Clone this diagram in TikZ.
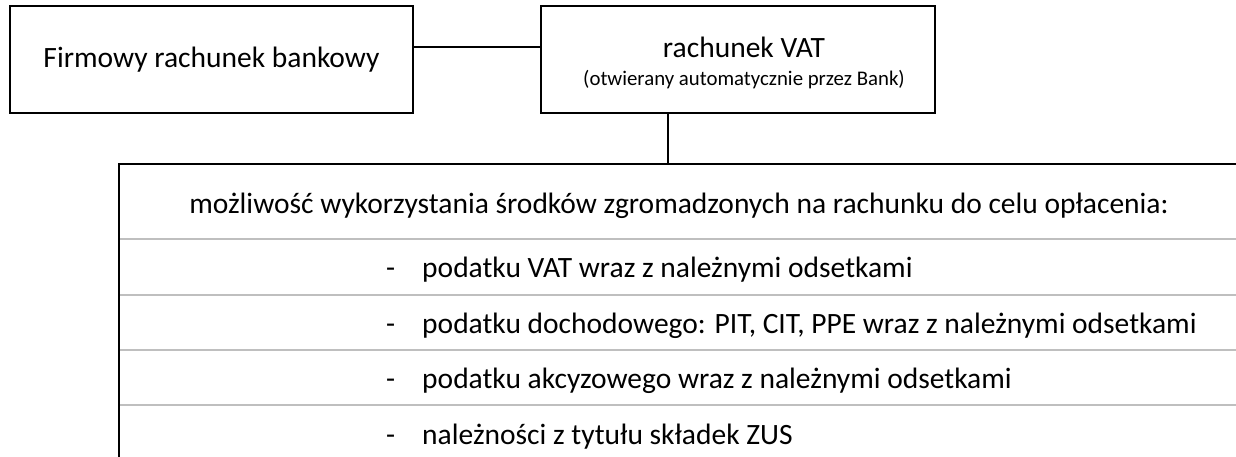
\documentclass[tikz,border=0pt]{standalone}
\usepackage{fontspec}
\setmainfont{Carlito}
\usetikzlibrary{positioning,calc}

\tikzset{
  ramka/.style={draw, line width=2pt, minimum height=107pt, inner sep=0pt},
  linia/.style={line width=2pt},
  wiersz/.style={draw=black!25, line width=2pt},
  punkt/.style={anchor=base west, inner sep=0pt}
}

\begin{document}
\begin{tikzpicture}[x=1pt, y=-1pt, font=\fontsize{29.5}{35}\selectfont]
  \useasboundingbox (0,0) rectangle (1236,456);
  \clip (0,0) rectangle (1236,456);
  % Top boxes
  \node[ramka, minimum width=403pt] (firma) at (211.5,59.5) {Firmowy rachunek bankowy};
  \node[ramka, minimum width=394pt] (vat) at (738,59.5) {};
  \node[anchor=base, inner sep=0pt] (vattytul) at (744,57) {rachunek VAT};
  \node[anchor=base, inner sep=0pt, font=\fontsize{20.8}{25}\selectfont] (vatopis) at (744,85) {(otwierany automatycznie przez Bank)};
  % Connectors
  \coordinate (laczy) at (0,47);
  \coordinate (pion) at (668,0);
  \coordinate (ramka) at (119,164);
  \draw[linia] (firma.east |- laczy) -- (vat.west |- laczy);
  \draw[linia] (vat.south -| pion) -- (pion |- ramka);
  % Bottom frame, open to the right and below
  \draw[linia] (1240,164) -- (ramka) -- (119,460);
  \foreach \y in {239,295,350,405}
    \draw[wiersz] (120,\y) -- (1240,\y);
  % Texts
  \node[anchor=base, inner sep=0pt] (opis) at (679,213) {możliwość wykorzystania środków zgromadzonych na rachunku do celu opłacenia:};
  \node[punkt] (podvat) at (386,277.5) {-\hspace{27pt}podatku VAT wraz z należnymi odsetkami};
  \node[punkt] (podpit) at (386,333) {-\hspace{27pt}podatku dochodowego: PIT, CIT, PPE wraz z należnymi odsetkami};
  \node[punkt] (podakc) at (386,388.5) {-\hspace{27pt}podatku akcyzowego wraz z należnymi odsetkami};
  \node[punkt] (zus) at (386,444) {-\hspace{27pt}należności z tytułu składek ZUS};
\end{tikzpicture}
\end{document}
